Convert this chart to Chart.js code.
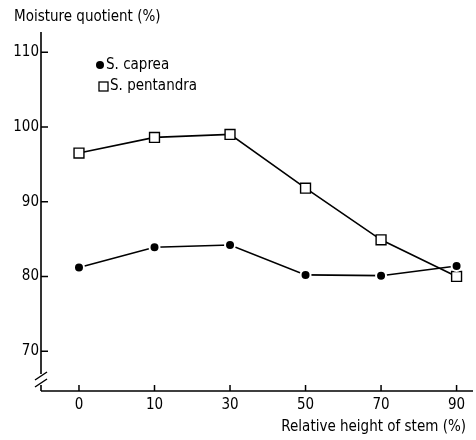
<!DOCTYPE html>
<html>
<head>
  <title>Moisture quotient</title>
  <script src="https://cdn.jsdelivr.net/npm/chart.js"></script>
  <style>
    body { margin: 0; background: #fff; }
    #wrap { width: 476px; height: 440px; }
  </style>
</head>
<body>
  <div id="wrap"><canvas id="chart" width="476" height="440"></canvas></div>

  <script>
    // data
    const heights = ['0', '10', '30', '50', '70', '90'];
    const caprea = [81.2, 83.9, 84.2, 80.2, 80.1, 81.4];
    const pentandra = [96.5, 98.6, 99.0, 91.8, 84.9, 80.0];
    const yTicks = [70, 80, 90, 100, 110];

    const FONT = '"DejaVu Sans Condensed", "DejaVu Sans", sans-serif';

    const pts = arr => arr.map((v, i) => ({ x: i, y: v }));

    // axes, axis break, inward ticks, legend and titles
    const decor = {
      id: 'decor',
      beforeDatasetsDraw(chart) {
        const ctx = chart.ctx;
        const xs = chart.scales.x, ys = chart.scales.y;
        const a = chart.chartArea;
        ctx.save();
        ctx.strokeStyle = '#000';
        ctx.lineWidth = 1.6;
        ctx.beginPath();
        // y axis, with a gap for the break
        ctx.moveTo(a.left, a.top);
        ctx.lineTo(a.left, a.bottom - 17);
        ctx.moveTo(a.left, a.bottom - 6);
        ctx.lineTo(a.left, a.bottom);
        // x axis runs a little past the plot area, as in the print
        ctx.moveTo(a.left, a.bottom);
        ctx.lineTo(473, a.bottom);
        ctx.stroke();

        ctx.lineWidth = 1.5;
        ctx.beginPath();
        xs.ticks.forEach(t => {
          const px = xs.getPixelForValue(t.value);
          ctx.moveTo(px, a.bottom);
          ctx.lineTo(px, a.bottom - 6);
        });
        ys.ticks.forEach(t => {
          const py = ys.getPixelForValue(t.value);
          ctx.moveTo(a.left, py);
          ctx.lineTo(a.left + 7, py);
        });
        // break marks
        ctx.moveTo(a.left - 6, a.bottom - 4);
        ctx.lineTo(a.left + 6, a.bottom - 12);
        ctx.moveTo(a.left - 6, a.bottom - 11);
        ctx.lineTo(a.left + 6, a.bottom - 19);
        ctx.stroke();
        ctx.restore();
      },
      afterDraw(chart) {
        const ctx = chart.ctx;
        ctx.save();
        ctx.fillStyle = '#000';
        ctx.strokeStyle = '#000';
        ctx.font = '15px ' + FONT;
        ctx.textBaseline = 'middle';
        ctx.textAlign = 'left';
        ctx.fillText('Moisture quotient (%)', 14, 17);
        ctx.textAlign = 'right';
        ctx.fillText('Relative height of stem (%)', 466, 427);

        // legend
        ctx.textAlign = 'left';
        ctx.beginPath();
        ctx.arc(100, 65, 4, 0, Math.PI * 2);
        ctx.fill();
        ctx.fillText('S. caprea', 106, 65);
        ctx.lineWidth = 1.3;
        ctx.strokeRect(99, 82, 9, 9);
        ctx.fillText('S. pentandra', 110, 86);
        ctx.restore();
      }
    };

    new Chart(document.getElementById('chart'), {
      type: 'line',
      data: {
        datasets: [
          {
            label: 'S. caprea',
            data: pts(caprea),
            borderColor: '#000',
            borderWidth: 1.6,
            pointStyle: 'circle',
            pointRadius: 5,
            pointBackgroundColor: '#000',
            pointBorderColor: '#fff',
            pointBorderWidth: 2,
            tension: 0
          },
          {
            label: 'S. pentandra',
            data: pts(pentandra),
            borderColor: '#000',
            borderWidth: 1.6,
            pointStyle: 'rect',
            pointRadius: 7,
            pointBackgroundColor: '#fff',
            pointBorderColor: '#000',
            pointBorderWidth: 1.4,
            tension: 0
          }
        ]
      },
      options: {
        responsive: false,
        animation: false,
        events: [],
        clip: false,
        layout: { padding: { top: 32, right: 3, left: 0, bottom: 0 } },
        plugins: { legend: { display: false }, tooltip: { enabled: false } },
        scales: {
          x: {
            type: 'linear',
            min: -0.503,
            max: 5.146,
            afterBuildTicks: s => { s.ticks = heights.map((_, i) => ({ value: i })); },
            afterFit: s => { s.height = 49; },
            grid: { display: false, drawTicks: false },
            border: { display: false },
            ticks: {
              color: '#000',
              font: { family: FONT, size: 15 },
              padding: 5,
              callback: v => heights[v]
            }
          },
          y: {
            min: 64.67,
            max: 112.7,
            afterBuildTicks: s => { s.ticks = yTicks.map(v => ({ value: v })); },
            afterFit: s => { s.width = 41; },
            grid: { display: false, drawTicks: false },
            border: { display: false },
            ticks: {
              color: '#000',
              font: { family: FONT, size: 15 },
              padding: 2
            }
          }
        }
      },
      plugins: [decor]
    });
  </script>
</body>
</html>
